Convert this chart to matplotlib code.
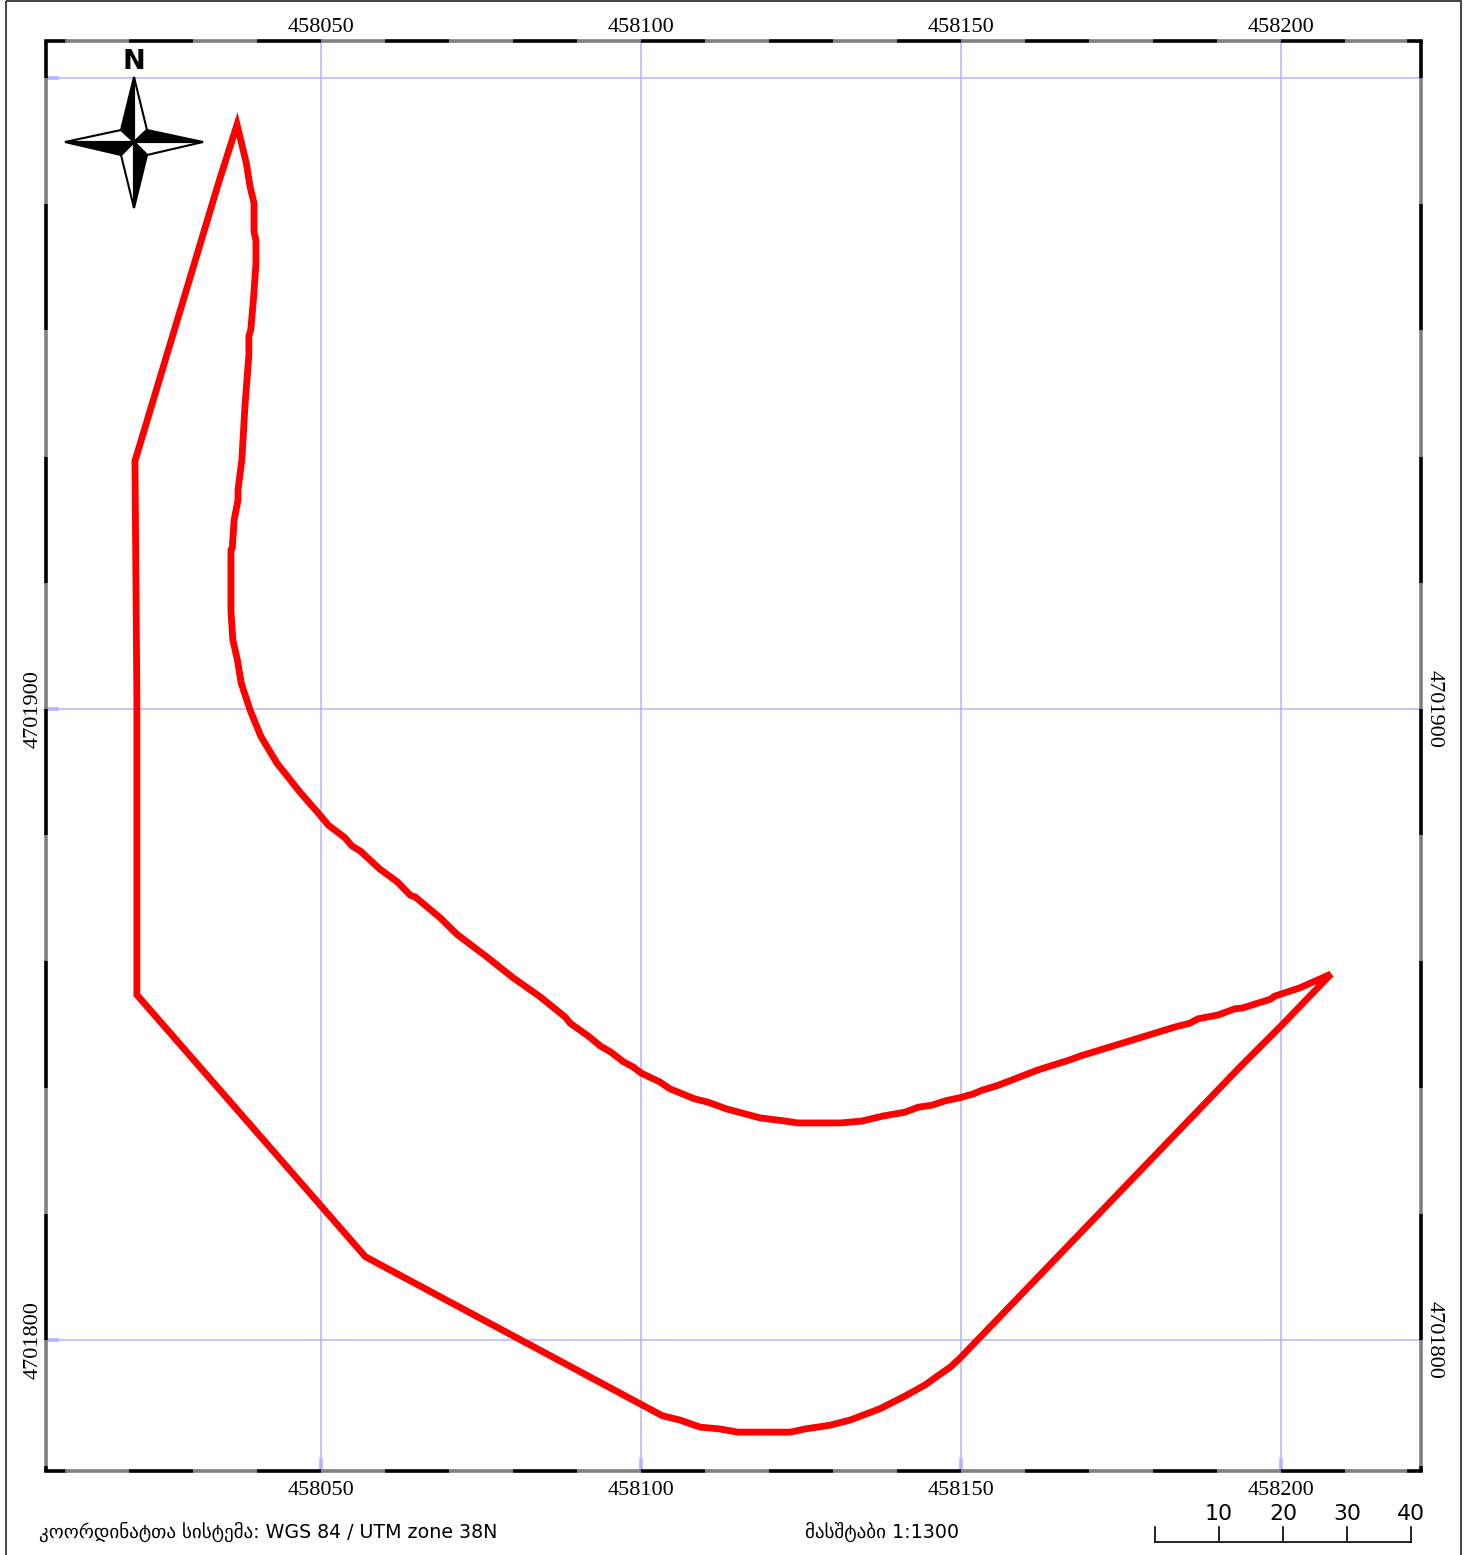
import matplotlib
matplotlib.use('Agg')
import matplotlib.pyplot as plt
import numpy as np
from matplotlib.patches import Polygon, Rectangle

# parcel boundary, UTM 38N, given as offset from base point
base_e = 458000
base_n = 4701800
east = [36.95, 38.4, 39.0, 39.6, 39.6, 39.9, 39.9, 39.5, 39.1, 38.8, 38.8, 38.2, 37.7, 37.1, 37.1, 36.5,
        36.2, 36.0, 36.0, 36.3, 37.0, 37.6, 39.0, 40.7, 43.2, 46.8, 49.9, 51.2, 53.8, 54.9, 56.2, 59.3,
        62.0, 64.0, 64.8, 68.7, 71.3, 76.0, 80.1, 84.3, 88.2, 89.0, 91.8, 93.7, 95.4, 97.3, 98.8, 100.1,
        103.0, 104.6, 108.5, 110.5, 113.5, 118.7, 122.6, 124.5, 131.2, 134.6, 137.9, 141.3, 143.4, 145.5,
        147.6, 149.9, 152.0, 153.4, 155.7, 158.0, 162.1, 167.1, 168.7, 183.5, 185.8, 187.1, 190.2, 192.9,
        194.0, 198.4, 199.1, 203.0, 207.9, 200.1, 193.7, 149.9, 148.4, 146.0, 144.5, 141.3, 137.4, 132.7,
        129.6, 125.7, 123.4, 115.2, 112.4, 109.3, 106.2, 103.4, 99.9, 57.0, 21.3, 21.3, 21.0, 34.1]
north = [192.6, 186.5, 182.7, 180.2, 175.6, 174.3, 170.5, 164.8, 160.1, 159.1, 156.1, 148.2, 139.5, 134.7,
         133.1, 130.0, 125.5, 125.2, 115.4, 110.9, 107.8, 104.1, 99.8, 95.6, 91.4, 86.8, 83.2, 81.6, 79.6,
         78.3, 77.5, 74.6, 72.6, 70.5, 70.2, 66.9, 64.3, 60.7, 57.4, 54.4, 51.2, 50.2, 48.2, 46.6, 45.6,
         44.1, 43.3, 42.3, 40.9, 39.8, 38.2, 37.7, 36.6, 35.2, 34.7, 34.4, 34.4, 34.7, 35.5, 36.1, 36.9,
         37.2, 37.9, 38.4, 39.0, 39.6, 40.3, 41.2, 42.8, 44.4, 45.0, 49.6, 50.2, 50.9, 51.5, 52.5, 52.6,
         54.0, 54.5, 55.8, 58.0, 49.8, 43.3, -2.9, -4.3, -6.0, -7.1, -8.9, -10.9, -12.7, -13.5, -14.1,
         -14.6, -14.6, -14.1, -13.8, -12.7, -12.0, -10.1, 13.2, 54.7, 101.4, 139.3, 183.5]

x_ticks = [458050, 458100, 458150, 458200]
x_labels = ['458050', '458100', '458150', '458200']
y_ticks = [4702000, 4701900, 4701800]
y_labels = ['', '4701900', '4701800']
scale_values = [0, 10, 20, 30, 40]

W, H = 1469, 1555
GRID = '#b3b3ff'
SERIF = 'Liberation Serif'
fig = plt.figure(figsize=(W / 100, H / 100), dpi=100)

# main map
ax = fig.add_axes([46 / W, 1 - 1471 / H, 1375 / W, 1430 / H])
xlim = (458007.1, 458221.95)
ylim = (4701779.24, 4702005.86)
ax.set_xlim(xlim)
ax.set_ylim(ylim)
for s in ax.spines.values():
    s.set_visible(False)

ax.set_xticks(x_ticks, labels=x_labels)
ax.set_yticks(y_ticks, labels=y_labels)
ax.grid(True, color=GRID, lw=1.1)
ax.set_axisbelow(True)
ax.tick_params(axis='x', length=0, pad=7)
ax.tick_params(axis='y', length=0, labelleft=True, labelright=True, pad=2.7)
for t in ax.xaxis.get_major_ticks():
    t.label1.set_family(SERIF)
    t.label1.set_fontsize(16)
for t in ax.yaxis.get_major_ticks():
    for lab in (t.label1, t.label2):
        lab.set_family(SERIF)
        lab.set_fontsize(16)
        lab.set_verticalalignment('center')
    t.label1.set_rotation(90)
    t.label2.set_rotation(-90)

# top labels sit closer to the frame than the bottom ones
sec = ax.secondary_xaxis('top')
sec.set_xticks(x_ticks, labels=x_labels, family=SERIF, fontsize=16)
sec.tick_params(length=0, pad=2.7)
sec.spines['top'].set_visible(False)

# the outline starts and ends at the eastern tip
tip = 80
e = base_e + np.array(east[tip:] + east[:tip + 1])
n = base_n + np.array(north[tip:] + north[:tip + 1])
ax.plot(e, n, color='#ff0000', lw=4.9, solid_joinstyle='miter', solid_capstyle='butt', zorder=3)

# thicker grid stubs on left and bottom edge
for xt in x_ticks:
    ax.plot([xt, xt], [ylim[0], ylim[0] + 2], color=GRID, lw=2.6, solid_capstyle='butt', clip_on=False)
for yt in y_ticks:
    ax.plot([xlim[0], xlim[0] + 2], [yt, yt], color=GRID, lw=2.6, solid_capstyle='butt', clip_on=False)

# alternating black/grey frame, 10 m along x and 20 m along y
xs = [xlim[0]] + list(np.arange(458010, 458221, 10)) + [xlim[1]]
ys = [ylim[0]] + list(np.arange(4701780, 4702001, 20)) + [ylim[1]]
for i in range(len(xs) - 1):
    c = 'black' if i % 2 == 0 else '#808080'
    for yy in ylim:
        ax.plot(xs[i:i + 2], [yy, yy], color=c, lw=2.6, solid_capstyle='projecting' if i in (0, len(xs) - 2) else 'butt',
                clip_on=False, zorder=4)
for i in range(len(ys) - 1):
    c = 'black' if i % 2 == 0 else '#808080'
    for xx in xlim:
        ax.plot([xx, xx], ys[i:i + 2], color=c, lw=2.6, solid_capstyle='butt', clip_on=False, zorder=4)

# overlay in pixels for page furniture
ov = fig.add_axes([0, 0, 1, 1], facecolor='none')
ov.set_xlim(0, W)
ov.set_ylim(H, 0)
ov.axis('off')

ov.add_patch(Rectangle((6, 1), 1455, H + 10, fill=False, edgecolor='#222222', lw=1.2))

# north arrow
cx, cy = 134, 142
tips = [(cx, 77), (203, cy), (cx, 208), (65, cy)]
inner = [(121, 130), (147, 130), (147, 155), (121, 155)]
for i in range(4):
    point = tips[i]
    left = inner[i]
    right = inner[(i + 1) % 4]
    ov.add_patch(Polygon([point, (cx, cy), right], closed=True, fc='white', ec='black', lw=1.5))
    ov.add_patch(Polygon([point, (cx, cy), left], closed=True, fc='black', ec='black', lw=1.5))
ov.text(134, 62, 'N', ha='center', va='center', fontsize=19.5, fontweight='bold', family='DejaVu Sans')

# footer
ov.text(39, 1532, 'კოორდინატთა სისტემა: WGS 84 / UTM zone 38N', ha='left', va='center', fontsize=13.7,
        family='DejaVu Sans')
ov.text(805, 1532, 'მასშტაბი 1:1300', ha='left', va='center', fontsize=13.7, family='DejaVu Sans')

# scale bar, 6.4 px per metre
sx = [1155 + v * 6.4 for v in scale_values]
ov.plot([sx[0], sx[-1]], [1542, 1542], color='black', lw=1.2)
for v, px in zip(scale_values, sx):
    ov.plot([px, px], [1527, 1542], color='black', lw=1.2)
    if v > 0:
        ov.text(px, 1520, str(v), ha='center', va='baseline', fontsize=15.8, family='DejaVu Sans')

fig.savefig('out.png', dpi=100)
